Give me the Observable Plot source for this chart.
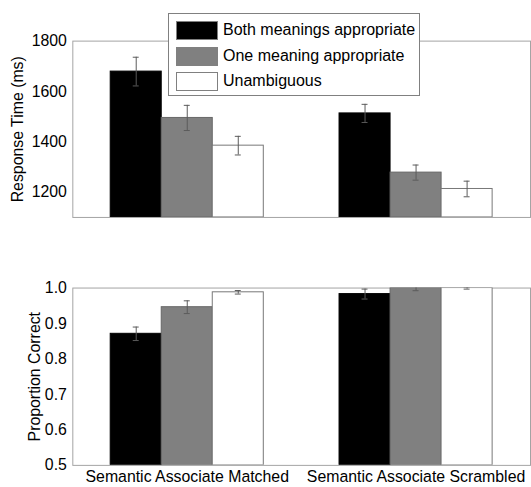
<!DOCTYPE html>
<html>
<head>
<meta charset="utf-8">
<script src="https://cdn.jsdelivr.net/npm/d3@7"></script>
<script src="https://cdn.jsdelivr.net/npm/@observablehq/plot@0.6"></script>
<style>
  html, body { margin: 0; padding: 0; background: #fff; overflow: hidden; }
  #wrap { position: relative; width: 531px; height: 487px; overflow: hidden; font-family: "Liberation Sans", Arial, sans-serif; }
  #top, #bottom { position: absolute; left: 0; }
  #top { top: 0; }
  #bottom { top: 240px; }
  #legend { position: absolute; left: 168px; top: 13px; width: 250px; height: 81px; border: 1px solid #808080; background: #fff; }
  .item { position: absolute; left: 7px; height: 18px; }
  .sw { position: absolute; left: 0; top: 0; width: 40px; height: 17px; border: 1px solid #808080; }
  .lab { position: absolute; left: 47px; top: -1px; font-size: 16px; line-height: 19px; white-space: nowrap; color: #000; }
  svg text { font-size: 16px; }
</style>
</head>
<body>
<div id="wrap">
  <div id="top"></div>
  <div id="bottom"></div>
  <div id="legend"></div>
</div>
<script>
// ---- data ----
const groups = ["Semantic Associate Matched", "Semantic Associate Scrambled"];
const conditions = ["Both meanings appropriate", "One meaning appropriate", "Unambiguous"];

const rtMatched = [1679, 1495, 1385];
const rtScrambled = [1513, 1278, 1213];
const rtErrMatched = [57, 50, 37];
const rtErrScrambled = [36, 30, 31];

const pcMatched = [0.871, 0.946, 0.988];
const pcScrambled = [0.983, 1.0, 1.0];
const pcErrMatched = [0.019, 0.018, 0.005];
const pcErrScrambled = [0.014, 0.0075, 0.003];

const rtTicks = [1200, 1400, 1600, 1800];
const pcTicks = [0.5, 0.6, 0.7, 0.8, 0.9, 1.0];

const fills = ["#000000", "#808080", "#ffffff"];
const strokes = ["#000000", "#666666", "#777777"];

// ---- build rows ----
function rows(a, b, ea, eb) {
  const out = [];
  [[a, ea], [b, eb]].forEach(([vals, errs], gi) => {
    vals.forEach((v, ci) => out.push({g: gi + 1, ci, condition: conditions[ci], value: v, err: errs[ci]}));
  });
  return out;
}
const rtRows = rows(rtMatched, rtScrambled, rtErrMatched, rtErrScrambled);
const pcRows = rows(pcMatched, pcScrambled, pcErrMatched, pcErrScrambled);

const BW = 0.223;
const CAP = 0.013;
const cx = d => d.g + (d.ci - 1) * BW;

function panel({data, yDomain, ticks, fmt, label, labelOffset, height, marginTop, marginBottom, showX}) {
  return Plot.plot({
    width: 536,
    height,
    marginLeft: 73,
    marginRight: 1,
    marginTop,
    marginBottom,
    style: {fontFamily: "'Liberation Sans', Arial, sans-serif", fontSize: "16px", color: "#000", background: "transparent", overflow: "visible"},
    x: {type: "linear", domain: [0.5, 2.5]},
    y: {domain: yDomain},
    color: {domain: conditions, range: fills},
    marks: [
      Plot.frame({stroke: "#a3a3a3"}),
      Plot.rectY(data, {
        x1: d => cx(d) - BW / 2,
        x2: d => cx(d) + BW / 2,
        y1: yDomain[0],
        y2: "value",
        fill: "condition",
        stroke: d => strokes[d.ci],
        strokeWidth: 1,
        clip: true
      }),
      Plot.ruleX(data, {x: cx, y1: d => d.value - d.err, y2: d => d.value + d.err, stroke: "#5a5a5a", strokeWidth: 1, clip: true}),
      Plot.ruleY(data, {y: d => d.value + d.err, x1: d => cx(d) - CAP, x2: d => cx(d) + CAP, stroke: "#5a5a5a", strokeWidth: 1, clip: true}),
      Plot.ruleY(data, {y: d => d.value - d.err, x1: d => cx(d) - CAP, x2: d => cx(d) + CAP, stroke: "#5a5a5a", strokeWidth: 1, clip: true}),
      Plot.axisY({ticks, tickFormat: fmt, tickSize: 0, tickPadding: 6, label, labelAnchor: "center", labelArrow: "none", labelOffset, fontSize: 16}),
      showX
        ? Plot.axisX({ticks: [1, 2], tickFormat: t => groups[t - 1], tickSize: 0, tickPadding: 5, label: null, fontSize: 16})
        : Plot.axisX({ticks: [], label: null})
    ]
  });
}

document.getElementById("top").appendChild(panel({
  data: rtRows, yDomain: [1100, 1800], ticks: rtTicks, fmt: d3.format("d"),
  label: "Response Time (ms)", labelOffset: 62, height: 240, marginTop: 41, marginBottom: 21, showX: false
}));

document.getElementById("bottom").appendChild(panel({
  data: pcRows, yDomain: [0.5, 1.0], ticks: pcTicks, fmt: d3.format(".1f"),
  label: "Proportion Correct", labelOffset: 45, height: 247, marginTop: 48, marginBottom: 20, showX: true
}));

// ---- legend ----
const legend = document.getElementById("legend");
conditions.forEach((c, i) => {
  const item = document.createElement("div");
  item.className = "item";
  item.style.top = (7 + i * 25.5) + "px";
  const sw = document.createElement("div");
  sw.className = "sw";
  sw.style.background = fills[i];
  const lab = document.createElement("div");
  lab.className = "lab";
  lab.textContent = c;
  item.appendChild(sw);
  item.appendChild(lab);
  legend.appendChild(item);
});
</script>
</body>
</html>
